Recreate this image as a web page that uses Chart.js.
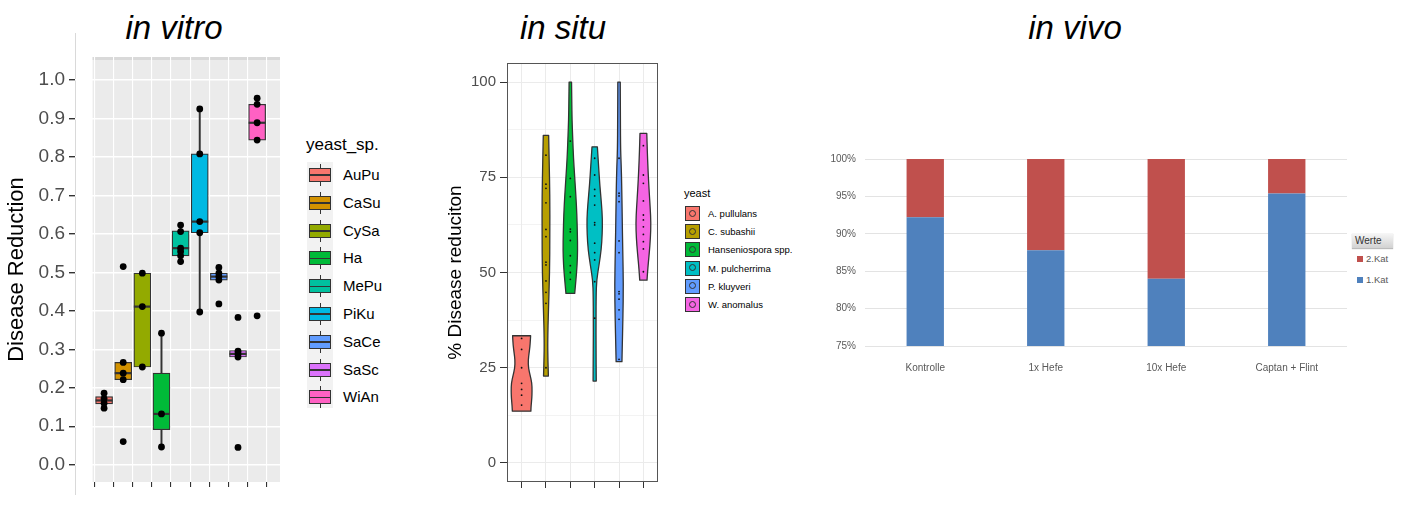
<!DOCTYPE html>
<html>
<head>
<meta charset="utf-8">
<script src="https://cdn.jsdelivr.net/npm/chart.js@4.4.1/dist/chart.umd.min.js"></script>
<style>
html, body { margin: 0; padding: 0; background: #fff; }
body { width: 1401px; height: 506px; position: relative; overflow: hidden; font-family: 'Liberation Sans', Arial, sans-serif; }
canvas { position: absolute; }
.titel { position: absolute; top: 11px; font-style: italic; font-size: 33px; line-height: 33px; color: #000; transform: translateX(-50%); white-space: nowrap; }
.abs { position: absolute; white-space: nowrap; }
</style>
</head>
<body>
<div class="titel" style="left:174px">in vitro</div>
<div class="titel" style="left:563px">in situ</div>
<div class="titel" style="left:1075px">in vivo</div>

<div class="abs" style="left:75px;top:33px;width:1px;height:462px;background:#d9d9d9"></div>
<canvas id="vitro" width="300" height="466" style="left:0;top:40px"></canvas>
<div id="legendVitro"></div>

<canvas id="situ" width="240" height="456" style="left:430px;top:50px"></canvas>
<div id="legendSitu"></div>

<canvas id="vivo" width="540" height="240" style="left:810px;top:140px"></canvas>
<div id="legendVivo"></div>

<script>
// ---- in vitro (Boxplot) ----
const arten = ["AuPu", "CaSu", "CySa", "Ha", "MePu", "PiKu", "SaCe", "SaSc", "WiAn"];
const artenFarben = ["#F8766D", "#D39200", "#93AA00", "#00BA38", "#00C19F", "#00B9E3", "#619CFF", "#DB72FB", "#FF61C3"];
const q1 = [0.158, 0.221, 0.254, 0.091, 0.543, 0.603, 0.480, 0.280, 0.844];
const median = [0.167, 0.238, 0.411, 0.132, 0.563, 0.632, 0.489, 0.288, 0.889];
const q3 = [0.177, 0.266, 0.498, 0.238, 0.608, 0.808, 0.498, 0.297, 0.937];
const whiskerUnten = [0.147, 0.221, 0.254, 0.046, 0.528, 0.397, 0.480, 0.280, 0.844];
const whiskerOben = [0.186, 0.266, 0.498, 0.342, 0.623, 0.925, 0.513, 0.297, 0.953];
const punkte = [
    [0.147, 0.160, 0.172, 0.186],
    [0.060, 0.221, 0.238, 0.266, 0.515],
    [0.254, 0.411, 0.498],
    [0.046, 0.132, 0.342],
    [0.528, 0.543, 0.554, 0.563, 0.606, 0.623],
    [0.397, 0.603, 0.632, 0.808, 0.925],
    [0.418, 0.480, 0.489, 0.498, 0.513],
    [0.045, 0.280, 0.288, 0.295, 0.383],
    [0.387, 0.844, 0.889, 0.937, 0.953]
];
const vitroMajor = [0, 0.1, 0.2, 0.3, 0.4, 0.5, 0.6, 0.7, 0.8, 0.9, 1.0];
const vitroMinor = [0.05, 0.15, 0.25, 0.35, 0.45, 0.55, 0.65, 0.75, 0.85, 0.95, 1.05];

// ---- in situ (Violin) ----
const hefen = ["A. pullulans", "C. subashii", "Hanseniospora spp.", "M. pulcherrima", "P. kluyveri", "W. anomalus"];
const hefeFarben = ["#F8766D", "#B79F00", "#00BA38", "#00BFC4", "#619CFF", "#F564E3"];
// [Wert, halbe Breite in Kategorie-Einheiten], von oben nach unten
const violinen = [
    [[33.4, 0.37], [31, 0.35], [29, 0.31], [27, 0.27], [25, 0.28], [23, 0.35], [21, 0.42], [19, 0.43], [17, 0.42], [15, 0.39], [13.6, 0.38]],
    [[86, 0.11], [80, 0.13], [70, 0.16], [60, 0.16], [50, 0.15], [40, 0.10], [32, 0.07], [27, 0.08], [22.8, 0.10]],
    [[100, 0.05], [95, 0.06], [90, 0.07], [85, 0.10], [80, 0.13], [75, 0.18], [70, 0.23], [65, 0.27], [60, 0.29], [56, 0.30], [52, 0.28], [48, 0.23], [44.5, 0.18]],
    [[83, 0.11], [78, 0.16], [73, 0.21], [68, 0.28], [64, 0.32], [60, 0.31], [56, 0.27], [52, 0.18], [48, 0.08], [44, 0.06], [38, 0.055], [30, 0.055], [21.5, 0.065]],
    [[100, 0.05], [90, 0.055], [82, 0.065], [78, 0.09], [73, 0.11], [65, 0.13], [56, 0.15], [47, 0.18], [38, 0.16], [30, 0.13], [26.6, 0.12]],
    [[86.5, 0.14], [82, 0.16], [77, 0.19], [72, 0.23], [67, 0.28], [63, 0.31], [59, 0.29], [55, 0.24], [51, 0.18], [48, 0.15]]
];
const situPunkte = [
    [32.7, 29.8, 25.0, 20.9, 19.3, 17.8, 15.2],
    [80.8, 73.2, 72.1, 68.3, 61.3, 59.4, 52.7, 52.0, 47.8, 44.8, 41.9, 25.0],
    [84.5, 74.7, 69.9, 61.4, 60.7, 58.4, 54.4, 51.8, 50.0, 48.2],
    [80.0, 75.6, 71.8, 70.1, 67.7, 63.1, 62.5, 57.7, 55.2, 53.3, 47.6, 38.0],
    [80.0, 70.8, 70.1, 68.6, 58.3, 55.2, 45.0, 44.4, 43.0, 40.2, 37.7, 27.2],
    [83.3, 75.6, 73.4, 68.8, 65.1, 63.8, 62.0, 60.0, 58.1, 56.2, 50.2]
];
const situMajor = [0, 25, 50, 75, 100];
const situMinor = [12.5, 37.5, 62.5, 87.5];

// ---- in vivo (gestapelte Balken) ----
const varianten = ["Kontrolle", "1x Hefe", "10x Hefe", "Captan + Flint"];
const kat1 = [92.2, 87.8, 84.0, 95.4];
const kat2 = [7.8, 12.2, 16.0, 4.6];

Chart.defaults.font.family = "'Liberation Sans', Arial, sans-serif";
Chart.defaults.animation = false;
Chart.defaults.plugins.legend.display = false;
Chart.defaults.plugins.tooltip.enabled = false;

function istIn(liste, v) {
    return liste.some(m => Math.abs(m - v) < 1e-6);
}

const panelGrau = {
    id: "panelGrau",
    beforeDraw(chart) {
        const { ctx, chartArea, scales } = chart;
        const links = scales.x.getPixelForValue(-0.6);
        ctx.save();
        ctx.fillStyle = "#EBEBEB";
        ctx.fillRect(links, chartArea.top, chartArea.right - links, chartArea.bottom - chartArea.top);
        ctx.fillStyle = "#D9D9D9";
        ctx.fillRect(links, chartArea.top, chartArea.right - links, 3);
        ctx.restore();
    }
};

new Chart(document.getElementById("vitro").getContext("2d"), {
    type: "bar",
    data: {
        datasets: [
            {
                type: "scatter",
                data: punkte.flatMap((p, i) => p.map(v => ({ x: i, y: v }))),
                backgroundColor: "#000",
                borderWidth: 0,
                pointRadius: 3.4,
                order: 1
            },
            {
                type: "scatter",
                data: median.map((m, i) => ({ x: i, y: m })),
                pointStyle: "line",
                pointRadius: 8.5,
                borderColor: "#333",
                borderWidth: 2.2,
                order: 2
            },
            {
                data: q1.map((v, i) => ({ x: i, y: [v, q3[i]] })),
                backgroundColor: artenFarben,
                borderColor: "#333",
                borderWidth: 1.2,
                borderSkipped: false,
                barThickness: 17,
                grouped: false,
                order: 3
            },
            {
                data: whiskerUnten.map((v, i) => ({ x: i, y: [v, q1[i]] })),
                backgroundColor: "#333",
                barThickness: 1.3,
                grouped: false,
                order: 4
            },
            {
                data: whiskerOben.map((v, i) => ({ x: i, y: [q3[i], v] })),
                backgroundColor: "#333",
                barThickness: 1.3,
                grouped: false,
                order: 4
            }
        ]
    },
    options: {
        responsive: false,
        layout: { padding: { top: 17, right: 20, bottom: 0, left: 0 } },
        scales: {
            x: {
                type: "linear",
                min: -0.925,
                max: 8.6,
                afterBuildTicks: s => { s.ticks = arten.map((a, i) => ({ value: i })); },
                afterFit: s => { s.height = 24; },
                ticks: { display: false },
                grid: { color: "#fff", lineWidth: 1.1, tickColor: "#333", tickLength: 5 },
                border: { display: false }
            },
            y: {
                min: -0.045,
                max: 1.06,
                afterBuildTicks: s => {
                    s.ticks = vitroMajor.concat(vitroMinor).sort((a, b) => a - b).map(v => ({ value: v }));
                },
                afterFit: s => { s.width = 75; },
                ticks: {
                    callback: v => istIn(vitroMajor, v) ? v.toFixed(1) : "",
                    font: { size: 19 },
                    color: "#4d4d4d",
                    padding: 4
                },
                grid: {
                    color: "#fff",
                    lineWidth: c => istIn(vitroMajor, c.tick.value) ? 1.4 : 0.7,
                    tickColor: c => istIn(vitroMajor, c.tick.value) ? "#333" : "rgba(0,0,0,0)",
                    tickLength: 6
                },
                border: { display: false },
                title: {
                    display: true,
                    text: "Disease Reduction",
                    font: { size: 22 },
                    color: "#000",
                    padding: { top: 4, bottom: 0 }
                }
            }
        }
    },
    plugins: [panelGrau]
});

// Legende in vitro
(function () {
    const box = document.getElementById("legendVitro");
    let html = '<div class="abs" style="left:306px;top:136px;font-size:17px;line-height:17px;color:#000">yeast_sp.</div>';
    html += '<div class="abs" style="left:307px;top:162px;width:26px;height:246px;background:#F2F2F2"></div>';
    arten.forEach((a, i) => {
        const mitte = 175 + i * 27.8;
        html += `<div class="abs" style="left:319.5px;top:${mitte - 11}px;width:1.2px;height:22px;background:#333"></div>`;
        html += `<div class="abs" style="left:309px;top:${mitte - 7}px;width:20px;height:12px;background:${artenFarben[i]};border:1.2px solid #333"></div>`;
        html += `<div class="abs" style="left:310px;top:${mitte - 0.6}px;width:20px;height:1.6px;background:#333"></div>`;
        html += `<div class="abs" style="left:343px;top:${mitte - 9}px;font-size:15px;line-height:18px;color:#000">${a}</div>`;
    });
    box.innerHTML = html;
})();

// ---- in situ ----
function glatterPfad(ctx, pts, start) {
    if (start) ctx.moveTo(pts[0][0], pts[0][1]); else ctx.lineTo(pts[0][0], pts[0][1]);
    for (let k = 1; k < pts.length - 1; k++) {
        const mx = (pts[k][0] + pts[k + 1][0]) / 2;
        const my = (pts[k][1] + pts[k + 1][1]) / 2;
        ctx.quadraticCurveTo(pts[k][0], pts[k][1], mx, my);
    }
    const l = pts[pts.length - 1];
    ctx.lineTo(l[0], l[1]);
}

const violinPlugin = {
    id: "violinen",
    beforeDatasetsDraw(chart) {
        const { ctx, scales: { x, y } } = chart;
        ctx.save();
        violinen.forEach((prof, i) => {
            const rechts = prof.map(([v, w]) => [x.getPixelForValue(i + w), y.getPixelForValue(v)]);
            const links = prof.map(([v, w]) => [x.getPixelForValue(i - w), y.getPixelForValue(v)]).reverse();
            ctx.beginPath();
            glatterPfad(ctx, rechts, true);
            glatterPfad(ctx, links, false);
            ctx.closePath();
            ctx.fillStyle = hefeFarben[i];
            ctx.fill();
            ctx.lineWidth = 1.3;
            ctx.strokeStyle = "#333";
            ctx.lineJoin = "round";
            ctx.stroke();
        });
        ctx.restore();
    },
    afterDraw(chart) {
        const { ctx, chartArea } = chart;
        ctx.save();
        ctx.strokeStyle = "#555";
        ctx.lineWidth = 1;
        ctx.strokeRect(Math.round(chartArea.left) + 0.5, Math.round(chartArea.top) + 0.5,
            Math.round(chartArea.right - chartArea.left) - 1, Math.round(chartArea.bottom - chartArea.top) - 1);
        ctx.restore();
    }
};

new Chart(document.getElementById("situ").getContext("2d"), {
    type: "scatter",
    data: {
        datasets: [{
            data: situPunkte.flatMap((p, i) => p.map(v => ({ x: i, y: v }))),
            backgroundColor: "#111",
            borderWidth: 0,
            pointRadius: 0.9
        }]
    },
    options: {
        responsive: false,
        layout: { padding: { top: 13, right: 12, bottom: 0, left: 0 } },
        scales: {
            x: {
                type: "linear",
                min: -0.6,
                max: 5.6,
                afterBuildTicks: s => { s.ticks = hefen.map((h, i) => ({ value: i })); },
                afterFit: s => { s.height = 24; },
                ticks: { display: false },
                grid: { color: "#EBEBEB", lineWidth: 1, tickColor: "#333", tickLength: 6 },
                border: { display: false }
            },
            y: {
                min: -5,
                max: 105,
                afterBuildTicks: s => {
                    s.ticks = situMajor.concat(situMinor).sort((a, b) => a - b).map(v => ({ value: v }));
                },
                afterFit: s => { s.width = 77; },
                ticks: {
                    callback: v => istIn(situMajor, v) ? String(v) : "",
                    font: { size: 15 },
                    color: "#4d4d4d",
                    padding: 4
                },
                grid: {
                    color: "#EBEBEB",
                    lineWidth: c => istIn(situMajor, c.tick.value) ? 1 : 0.6,
                    tickColor: c => istIn(situMajor, c.tick.value) ? "#333" : "rgba(0,0,0,0)",
                    tickLength: 7
                },
                border: { display: false },
                title: {
                    display: true,
                    text: "% Disease reduciton",
                    font: { size: 19 },
                    color: "#000",
                    padding: { top: 14, bottom: 0 }
                }
            }
        }
    },
    plugins: [violinPlugin]
});

// Legende in situ
(function () {
    const box = document.getElementById("legendSitu");
    let html = '<div class="abs" style="left:684px;top:188px;font-size:11px;line-height:11px;color:#000">yeast</div>';
    hefen.forEach((h, i) => {
        const mitte = 214 + i * 18.2;
        html += `<div class="abs" style="left:685px;top:${mitte - 8}px;width:15px;height:15px;background:${hefeFarben[i]};border:1px solid #333;box-sizing:border-box"></div>`;
        html += `<div class="abs" style="left:689px;top:${mitte - 4.5}px;width:7px;height:7px;border:1px solid #333;border-radius:50%;box-sizing:border-box"></div>`;
        html += `<div class="abs" style="left:708px;top:${mitte - 6}px;font-size:9.5px;line-height:12px;color:#000">${h}</div>`;
    });
    box.innerHTML = html;
})();

// ---- in vivo ----
new Chart(document.getElementById("vivo").getContext("2d"), {
    type: "bar",
    data: {
        labels: varianten,
        datasets: [
            { label: "1.Kat", data: kat1, backgroundColor: "#4F81BD", barPercentage: 0.31, categoryPercentage: 1 },
            { label: "2.Kat", data: kat2, backgroundColor: "#C0504D", barPercentage: 0.31, categoryPercentage: 1 }
        ]
    },
    options: {
        responsive: false,
        layout: { padding: { top: 19, right: 3, bottom: 0, left: 0 } },
        scales: {
            x: {
                stacked: true,
                afterFit: s => { s.height = 34; },
                grid: { display: false },
                border: { display: false },
                ticks: { font: { size: 10 }, color: "#595959", padding: 8 }
            },
            y: {
                stacked: true,
                min: 75,
                max: 100,
                afterFit: s => { s.width = 55; },
                ticks: { stepSize: 5, callback: v => v + "%", font: { size: 10 }, color: "#595959", padding: 9 },
                grid: { color: "#E3E3E3", lineWidth: 1, drawTicks: false },
                border: { display: false }
            }
        }
    }
});

// Legende in vivo
(function () {
    const box = document.getElementById("legendVivo");
    let html = '<div class="abs" style="left:1352px;top:233px;width:41px;height:15px;background:linear-gradient(#f7f7f7,#d2d2d2);box-shadow:0 1px 1px #bbb;font-size:10px;line-height:15px;color:#333;padding-left:3px;box-sizing:border-box">Werte</div>';
    const eintraege = [["2.Kat", "#C0504D"], ["1.Kat", "#4F81BD"]];
    eintraege.forEach(([name, farbe], i) => {
        const mitte = 259 + i * 21;
        html += `<div class="abs" style="left:1357px;top:${mitte - 3}px;width:6px;height:6px;background:${farbe}"></div>`;
        html += `<div class="abs" style="left:1366px;top:${mitte - 6}px;font-size:9.5px;line-height:12px;color:#595959">${name}</div>`;
    });
    box.innerHTML = html;
})();
</script>
</body>
</html>
